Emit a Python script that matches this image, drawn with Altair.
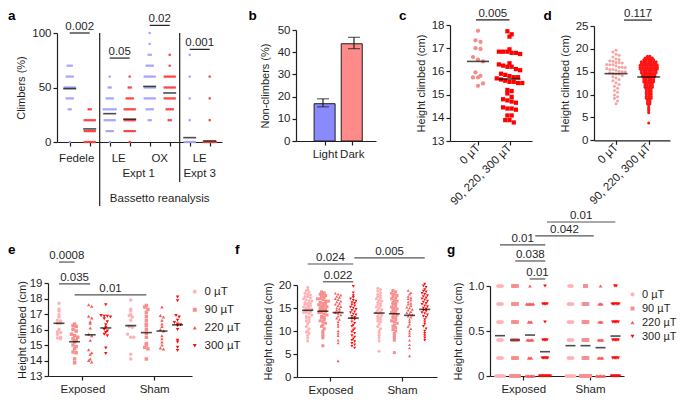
import altair as alt
import pandas as pd

W, H = 669, 388
FONT = "Liberation Sans"
INK = "#1f1f1f"
FS = 11.5

# ================= DATA =================
# ---- a: climbers (%) : number of trials at each 10 % level, per column
A_LEVELS = [0, 10, 20, 30, 40, 50, 60, 70, 80, 90, 100]
a_fedele_light = [1, 0, 0, 2, 4, 6, 4, 3, 0, 0, 0]
a_fedele_dark = [6, 6, 6, 2, 0, 0, 0, 0, 0, 0, 0]
a_le1_light = [1, 4, 6, 7, 4, 2, 1, 0, 0, 0, 0]
a_le1_dark = [1, 6, 6, 6, 4, 2, 1, 0, 0, 0, 0]
a_ox_light = [0, 0, 2, 4, 6, 6, 6, 4, 2, 1, 1]
a_ox_dark = [0, 0, 2, 4, 6, 6, 6, 1, 1, 0, 0]
a_le3_light = [6, 0, 1, 0, 1, 0, 1, 0, 1, 0, 0]
a_le3_dark = [7, 0, 1, 0, 1, 0, 1, 0, 0, 0, 0]
a_means = [49, 12, 26, 21, 51, 45, 4, 1]
a_cat_labels = ["Fedele", "LE", "OX", "LE"]
a_cat_pos = [0.35, 2.45, 4.5, 6.5]
a_expt_labels = ["Expt 1", "Expt 3"]
a_expt_pos = [3.45, 6.5]
a_separators = [1.5, 5.5]
a_p_x1 = [0, 2, 4, 6]
a_p_x2 = [1, 3, 5, 7]
a_p_y = [100, 77, 107, 85]
a_p_t = ["0.002", "0.05", "0.02", "0.001"]

# ---- b: non-climbers (%)
b_labels = ["Light", "Dark"]
b_values = [16.8, 43.8]
b_err_lo = [15.4, 41.6]
b_err_hi = [19.0, 46.7]

# ---- c: height climbed (cm)
c_labels = ["0 µT", "90, 220, 300 µT"]
c_0uT = [17.75, 17.34, 17.27, 17.0, 16.97, 16.62, 16.51, 16.43, 15.96, 15.81,
         15.74, 15.74, 15.48, 15.38]
c_exposed = [17.73, 17.6, 17.5, 16.95, 16.8, 16.85, 16.85, 16.8, 16.85, 16.75,
             16.35, 16.3, 16.25, 16.2, 16.2, 16.1, 16.05, 15.9, 15.85, 15.8,
             15.75, 15.75, 15.7, 15.65, 15.6, 15.55, 15.55, 15.5, 15.5, 15.2,
             15.15, 15.05, 14.9, 14.8, 14.75, 14.7, 14.65, 14.4, 14.45, 14.35,
             14.4, 14.1, 14.1, 13.9, 13.9, 13.8]
c_centre = [16.43, 15.67]
c_p_x1, c_p_x2, c_p_y, c_p_t = [-0.06], [1.0], [18.22], ["0.005"]

# ---- d: height climbed (cm)
d_0uT = [19.7, 19.3, 18.8, 18.6, 18.2, 17.8, 17.7, 17.4, 17.3, 17.0, 17.0, 16.9,
         16.6, 16.5, 16.5, 16.3, 16.0, 16.0, 15.9, 15.7, 15.5, 15.5, 15.3, 15.1,
         15.0, 15.0, 14.8, 14.6, 14.5, 14.5, 14.2, 13.9, 13.6, 13.3, 13.0, 12.6,
         12.2, 11.8, 11.4, 10.9, 10.5, 9.9, 9.5, 9.2, 8.6, 8.0]
d_exp_levels = [18.4, 18.0, 17.6, 17.2, 16.8, 16.4, 16.0, 15.6, 15.2, 14.8, 14.4,
                14.0, 13.6, 13.2, 12.8, 12.4, 12.0, 11.6, 11.2, 10.8, 10.4, 10.0,
                9.6, 9.2, 8.8, 8.4, 8.0, 7.6, 7.2, 6.8, 6.4, 6.0, 3.8]
d_exp_counts = [2, 4, 5, 7, 7, 8, 8, 8, 7, 7, 6, 6, 5, 5, 5, 4, 4, 4, 3, 3, 3, 3,
                3, 3, 2, 2, 2, 1, 1, 1, 1, 1, 1]
d_centre = [14.58, 13.85]
d_p_x1, d_p_x2, d_p_y, d_p_t = [0.245], [1.1], [26.3], ["0.117"]

# ---- e, f, g: groups
dose_labels = ["0 µT", "90 µT", "220 µT", "300 µT"]
cond_labels = ["Exposed", "Sham"]

e_exp = [
    [17.7, 17.3, 17.2, 16.95, 16.8, 16.6, 16.55, 16.4, 16.4, 16.0, 15.85, 15.8, 15.7, 15.5, 15.4, 15.45],
    [16.35, 16.25, 16.2, 16.0, 15.9, 15.7, 15.6, 15.5, 15.4, 15.3, 15.2, 15.0, 14.9, 14.75, 14.55, 14.5, 14.1, 13.85],
    [17.6, 17.5, 16.85, 16.75, 16.5, 16.4, 16.1, 15.7, 15.6, 15.3, 14.7, 14.5, 14.4, 14.1, 14.0, 13.9],
    [17.6, 16.9, 16.85, 16.85, 16.8, 16.7, 16.5, 16.3, 16.15, 16.0, 15.9, 15.8, 15.7, 15.6, 14.8, 14.45],
]
e_sham = [
    [17.9, 17.3, 17.2, 16.95, 16.9, 16.8, 16.6, 16.2, 16.15, 15.7, 15.5, 15.5, 14.4, 14.1],
    [17.55, 17.45, 17.3, 17.1, 16.85, 16.6, 16.35, 16.25, 16.0, 15.75, 15.5, 15.1, 15.0, 14.85, 14.75, 14.1],
    [17.45, 16.9, 16.8, 16.6, 16.35, 16.2, 16.0, 15.9, 15.6, 15.4, 15.2, 15.0, 14.8, 14.75],
    [18.1, 17.85, 16.9, 16.8, 16.6, 16.45, 16.35, 16.3, 16.25, 16.0, 15.3, 15.2, 14.85, 14.65],
]
e_centre = [16.4, 15.21, 15.66, 16.1, 16.25, 15.8, 15.9, 16.3]
e_p_x1 = [0, 0, 1]
e_p_x2 = [1, 2, 5.6]
e_p_y = [20.35, 18.94, 18.23]
e_p_t = ["0.0008", "0.035", "0.01"]

f_exp = [
    [19.5, 19.0, 18.8, 18.5, 18.2, 18.0, 17.8, 17.5, 17.5, 17.2, 17.0, 16.8, 16.5, 16.5, 16.2, 16.0,
     16.0, 15.8, 15.5, 15.5, 15.2, 15.0, 15.0, 14.8, 14.5, 14.5, 14.2, 14.0, 14.0, 13.8, 13.5, 13.2,
     13.0, 12.8, 12.5, 12.2, 12.0, 11.5, 11.0, 10.5, 10.0, 9.8, 9.5, 9.0, 8.5, 7.8],
    [18.5, 18.3, 18.0, 18.0, 17.7, 17.5, 17.3, 17.0, 17.0, 16.8, 16.5, 16.5, 16.2, 16.0, 16.0, 15.7,
     15.5, 15.5, 15.3, 15.0, 15.0, 14.8, 14.5, 14.5, 14.3, 14.0, 14.0, 13.7, 13.5, 13.2, 13.0, 12.8,
     12.5, 12.2, 12.0, 11.7, 11.3, 11.0, 10.5, 10.0, 9.5, 9.0, 8.5, 6.8],
    [18.2, 18.0, 17.8, 17.5, 17.3, 17.0, 16.8, 16.5, 16.3, 16.0, 15.8, 15.5, 15.3, 15.0, 14.8, 14.5,
     14.3, 14.0, 13.8, 13.5, 13.2, 12.8, 12.5, 12.0, 11.5, 11.0, 10.0, 9.5, 9.0, 8.0, 7.4, 3.5],
    [19.7, 18.3, 17.7, 17.3, 17.0, 16.7, 16.5, 16.2, 16.0, 15.7, 15.5, 15.2, 15.0, 14.7, 14.5, 14.2,
     14.0, 13.7, 13.5, 13.2, 13.0, 12.7, 12.5, 12.0, 11.7, 11.3, 11.0, 10.5, 10.2, 9.8, 9.5, 9.0,
     8.7, 8.3, 8.0, 7.7, 7.3, 7.0, 6.7, 6.3],
]
f_sham = [
    [19.3, 19.0, 18.7, 18.3, 18.0, 17.7, 17.5, 17.2, 17.0, 16.7, 16.5, 16.2, 16.0, 15.7, 15.5, 15.2,
     15.0, 14.7, 14.5, 14.2, 14.0, 13.7, 13.5, 13.2, 13.0, 12.7, 12.5, 12.2, 12.0, 11.5, 11.0, 10.5,
     10.0, 9.5, 9.0, 8.5, 7.8, 5.6],
    [18.8, 18.5, 18.2, 18.0, 17.7, 17.5, 17.2, 17.0, 16.7, 16.5, 16.2, 16.0, 15.8, 15.5, 15.2, 15.0,
     14.8, 14.5, 14.3, 14.0, 13.8, 13.5, 13.2, 13.0, 12.8, 12.5, 12.2, 12.0, 11.7, 11.3, 11.0, 10.7,
     10.3, 10.0, 9.5, 9.0, 8.5, 8.0, 5.3],
    [18.8, 18.3, 18.0, 17.5, 17.2, 17.0, 16.7, 16.3, 16.0, 15.8, 15.5, 15.2, 15.0, 14.7, 14.5, 14.2,
     14.0, 13.8, 13.5, 13.2, 13.0, 12.5, 12.0, 11.5, 11.0, 10.5, 10.0, 9.5, 9.0, 8.0, 7.0, 6.3, 4.6],
    [20.2, 19.8, 19.5, 19.0, 18.7, 18.5, 18.2, 18.0, 17.7, 17.5, 17.2, 17.0, 16.8, 16.5, 16.3, 16.0,
     15.8, 15.5, 15.3, 15.0, 14.8, 14.5, 14.3, 14.0, 13.8, 13.5, 13.2, 13.0, 12.5, 12.0, 11.5, 11.0,
     10.5, 10.0, 9.5, 9.0, 8.5, 8.0],
]
f_centre = [14.5, 14.3, 14.0, 12.8, 13.9, 13.75, 13.4, 14.7]
f_p_x1 = [0, 1, 3.07]
f_p_x2 = [3, 3, 7.7]
f_p_y = [24.57, 20.7, 25.9]
f_p_t = ["0.024", "0.022", "0.005"]

G_LEVELS = [0, 0.2, 0.4, 0.6, 0.8, 1.0]
g_exp_counts = [[7, 4, 4, 4, 4, 4], [7, 4, 5, 4, 4, 4], [7, 3, 5, 3, 6, 1], [9, 5, 4, 1, 4, 1]]
g_sham_counts = [[7, 4, 4, 4, 4, 3], [8, 4, 4, 4, 4, 2], [7, 4, 4, 3, 3, 1], [7, 5, 5, 5, 6, 2]]
g_centre = [0.448, 0.40, 0.455, 0.27, 0.337, 0.337, 0.315, 0.444]
g_p_x1 = [3.13, 2.35, 0, 1.02, 1.98]
g_p_x2 = [7.69, 6.25, 3.02, 3.02, 3.02]
g_p_y = [1.711, 1.556, 1.456, 1.278, 1.078]
g_p_t = ["0.01", "0.042", "0.01", "0.038", "0.01"]

# sub-group positions along the x scale
E_POS = [0, 1, 2, 3, 4.6, 5.6, 6.6, 7.6]
F_POS = [0, 1, 2, 3, 4.7, 5.7, 6.7, 7.7]
G_POS = [0, 1, 2, 3, 4.7, 5.7, 6.7, 7.7]

DOSE_COLORS = ["#ffb1b5", "#f98e8e", "#f65c5c", "#ff0d0d"]
DOSE_SHAPES = ["circle", "square", "triangle-up", "triangle-down"]


# ================= HELPERS =================
def lin(domain, rng):
    return alt.Scale(domain=domain, range=rng, nice=False, zero=False)


def left_axis(x0, title, values, pad=6, expr=None):
    kw = dict(orient="left", offset=-x0, title=title, values=values, grid=False,
              tickSize=4, labelPadding=2, titlePadding=pad)
    if expr:
        kw["labelExpr"] = expr
    return alt.Axis(**kw)


def bottom_axis(yb, values, expr=None, labels=True, angle=None):
    kw = dict(orient="bottom", offset=yb - H, title=None, values=values, grid=False,
              tickSize=4, labelPadding=3, labels=labels)
    if expr:
        kw["labelExpr"] = expr
    if angle is not None:
        kw["labelAngle"] = angle
        kw["labelAlign"] = "right"
        kw["labelBaseline"] = "middle"
        kw["labelPadding"] = 1
    return alt.Axis(**kw)


def list_expr(labels):
    return "[" + ",".join("'" + s + "'" for s in labels) + "][datum.value]"


def from_vals(vals, u, g):
    return [dict(u=u, g=g, v=v) for v in vals]


def from_counts(levels, counts, u, g):
    return [dict(u=u, g=g, v=lv) for lv, n in zip(levels, counts) for _ in range(n)]


def swarm(df, step, dx):
    # step / dx may be numbers or expressions (per-group)
    return (alt.Chart(df)
            .transform_calculate(b=f"round(datum.v / ({step}))")
            .transform_window(rk="row_number()", groupby=["u", "b"],
                              sort=[alt.SortField("v", order="descending")])
            .transform_joinaggregate(nn="count()", groupby=["u", "b"])
            .transform_calculate(xs=f"datum.u + (datum.rk - (datum.nn + 1) / 2) * ({dx})"))


def points(df, step, dx, xs, ys, xax, yax, gdom, colors, shapes, size, legend=None,
           mark="point", opacity=1.0):
    base = swarm(df, step, dx)
    if mark == "square":
        m = base.mark_square(size=size, opacity=opacity)
    else:
        m = base.mark_point(filled=True, size=size, opacity=opacity)
    enc = dict(
        x=alt.X("xs:Q", scale=xs, axis=xax),
        y=alt.Y("v:Q", scale=ys, axis=yax),
        color=alt.Color("g:N", scale=alt.Scale(domain=gdom, range=colors), legend=legend),
    )
    if shapes:
        enc["shape"] = alt.Shape("g:N", scale=alt.Scale(domain=gdom, range=shapes), legend=legend)
    return m.encode(**enc)


def centre_lines(us, ms, xs, ys, width):
    df = pd.DataFrame({"u": us, "m": ms})
    return alt.Chart(df).mark_tick(orient="horizontal", size=width, thickness=1.6,
                                   color="black").encode(
        x=alt.X("u:Q", scale=xs, axis=None), y=alt.Y("m:Q", scale=ys, axis=None))


def brackets(x1, x2, y, t, xs, ys, color):
    df = pd.DataFrame({"x1": x1, "x2": x2, "y": y, "t": t})
    base = alt.Chart(df)
    rule = base.mark_rule(color=color, strokeWidth=1.2).encode(
        x=alt.X("x1:Q", scale=xs, axis=None), x2="x2:Q",
        y=alt.Y("y:Q", scale=ys, axis=None))
    txt = base.transform_calculate(xc="(datum.x1 + datum.x2) / 2").mark_text(
        fontSize=FS, font=FONT, color=INK, baseline="alphabetic", dy=-3).encode(
        x=alt.X("xc:Q", scale=xs, axis=None), y=alt.Y("y:Q", scale=ys, axis=None),
        text="t:N")
    return [rule, txt]


def letter(t, x, y):
    return alt.Chart(pd.DataFrame({"t": [t]})).mark_text(
        fontSize=13.5, font=FONT, fontWeight="bold", color="black", align="left",
        baseline="alphabetic").encode(x=alt.value(x), y=alt.value(y), text="t:N")


def text_at(xs, pos, labels, ypx):
    return alt.Chart(pd.DataFrame({"p": pos, "t": labels})).mark_text(
        fontSize=FS, font=FONT, color=INK, baseline="alphabetic").encode(
        x=alt.X("p:Q", scale=xs, axis=None), y=alt.value(ypx), text="t:N")


layers = []

# ================= PANEL a =================
xa = lin([-0.635, 7.615], [49, 214])
ya = lin([0, 100], [134, 25])
a_cols = [a_fedele_light, a_fedele_dark, a_le1_light, a_le1_dark,
          a_ox_light, a_ox_dark, a_le3_light, a_le3_dark]
a_rows = []
for i, cnts in enumerate(a_cols):
    a_rows += from_counts(A_LEVELS, cnts, i, "light" if i % 2 == 0 else "dark")
a_df = pd.DataFrame(a_rows)
layers.append(points(a_df, 5, 0.1, xa, ya,
                     bottom_axis(134, list(range(8)), labels=False),
                     left_axis(49, "Climbers (%)", [0, 50, 100], pad=5),
                     ["light", "dark"], ["#a3a3ff", "#ff3c3c"], None, 5, mark="square"))
layers.append(centre_lines(list(range(8)), a_means, xa, ya, 13))
layers += brackets(a_p_x1, a_p_x2, a_p_y, a_p_t, xa, ya, INK)
layers.append(alt.Chart(pd.DataFrame({"s": [a_separators[0]]})).mark_rule(
    color=INK, strokeWidth=1.2).encode(x=alt.X("s:Q", scale=xa, axis=None),
                                       y=alt.value(25), y2=alt.value(198)))
layers.append(alt.Chart(pd.DataFrame({"s": [a_separators[1]]})).mark_rule(
    color=INK, strokeWidth=1.2).encode(x=alt.X("s:Q", scale=xa, axis=None),
                                       y=alt.value(25), y2=alt.value(174)))
layers.append(text_at(xa, a_cat_pos, a_cat_labels, 154))
layers.append(text_at(xa, a_expt_pos, a_expt_labels, 169))
layers.append(text_at(xa, [4.5], ["Bassetto reanalysis"], 194))

# ================= PANEL b =================
xb = lin([-0.871, 1.71], [288, 368])
yb = lin([0, 50], [133, 22])
b_df = pd.DataFrame({"u": [0, 1], "lab": b_labels, "val": b_values,
                     "lo": b_err_lo, "hi": b_err_hi})
layers.append(alt.Chart(b_df).mark_bar(size=21, stroke=INK, strokeWidth=1,
                                       orient="vertical").encode(
    x=alt.X("u:Q", scale=xb, axis=bottom_axis(133, [0, 1], expr=list_expr(b_labels))),
    y=alt.Y("val:Q", scale=yb,
            axis=left_axis(288, "Non-climbers (%)", [0, 10, 20, 30, 40, 50], pad=7)),
    color=alt.Color("lab:N", scale=alt.Scale(domain=b_labels, range=["#8a8aff", "#ff8a8a"]),
                    legend=None)))
layers.append(alt.Chart(b_df).mark_rule(color=INK, strokeWidth=1.2).encode(
    x=alt.X("u:Q", scale=xb, axis=None), y=alt.Y("lo:Q", scale=yb, axis=None), y2="hi:Q"))
for fld in ["lo", "hi"]:
    layers.append(alt.Chart(b_df).mark_tick(orient="horizontal", size=12, thickness=1.2,
                                            color=INK).encode(
        x=alt.X("u:Q", scale=xb, axis=None), y=alt.Y(f"{fld}:Q", scale=yb, axis=None)))

# ================= PANEL c =================
xc = lin([-0.889, 1.714], [442, 524])
yc = lin([13, 18], [133, 17])
c_df = pd.DataFrame(from_vals(c_0uT, 0, c_labels[0]) + from_vals(c_exposed, 1, c_labels[1]))
layers.append(points(c_df, 0.3, "datum.u == 0 ? 0.16 : 0.135", xc, yc,
                     bottom_axis(133, [0, 1], expr=list_expr(c_labels), angle=315),
                     left_axis(442, "Height climbed (cm)", [13, 14, 15, 16, 17, 18], pad=5),
                     c_labels, ["#f48c8c", "#ff0000"], ["circle", "square"], 18))
layers.append(centre_lines([0, 1], c_centre, xc, yc, 22))
layers += brackets(c_p_x1, c_p_x2, c_p_y, c_p_t, xc, yc, INK)

# ================= PANEL d =================
xd = lin([-0.673, 1.651], [586, 662])
yd = lin([0, 25], [132.3, 18])
d_df = pd.DataFrame(from_vals(d_0uT, 0, c_labels[0]) +
                    from_counts(d_exp_levels, d_exp_counts, 1, c_labels[1]))
layers.append(points(d_df, "datum.u == 0 ? 0.9 : 0.4", "datum.u == 0 ? 0.095 : 0.075", xd, yd,
                     bottom_axis(132.3, [0, 1], expr=list_expr(c_labels), angle=315),
                     left_axis(586, "Height climbed (cm)", [0, 5, 10, 15, 20, 25], pad=5),
                     c_labels, ["#f6a3a3", "#ff1414"], ["circle", "circle"], 9))
layers.append(centre_lines([0, 1], d_centre, xd, yd, 23))
layers += brackets(d_p_x1, d_p_x2, d_p_y, d_p_t, xd, yd, INK)


# ================= PANELS e, f, g =================
def group_rows(pos, exp_lists, sham_lists):
    rows = []
    for k in range(4):
        rows += from_vals(exp_lists[k], pos[k], dose_labels[k])
        rows += from_vals(sham_lists[k], pos[k + 4], dose_labels[k])
    return pd.DataFrame(rows)


cond_expr = f"datum.value < 4 ? '{cond_labels[0]}' : '{cond_labels[1]}'"

# e
xe = lin([-0.705, 8.526], [40, 184])
ye = lin([13, 19], [368, 275])
e_df = group_rows(E_POS, e_exp, e_sham)
e_legend = alt.Legend(orient="none", legendX=181, legendY=278, title=None,
                      labelFontSize=FS, labelFont=FONT, labelColor=INK, symbolSize=16,
                      rowPadding=5, labelOffset=4, padding=0)
layers.append(points(e_df, 0.2, 0.2, xe, ye,
                     bottom_axis(368, [1.5, 6.1], expr=cond_expr),
                     left_axis(40, "Height climbed (cm)", [13, 14, 15, 16, 17, 18, 19], pad=2),
                     dose_labels, DOSE_COLORS, DOSE_SHAPES, 12, legend=e_legend))
layers.append(centre_lines(E_POS, e_centre, xe, ye, 11))
layers += brackets(e_p_x1, e_p_x2, e_p_y, e_p_t, xe, ye, "#555555")

# f
xf = lin([-0.704, 8.507], [289, 429])
yf = lin([0, 20], [369, 277])
f_df = group_rows(F_POS, f_exp, f_sham)
layers.append(points(f_df, 0.6, 0.18, xf, yf,
                     bottom_axis(369, [1.5, 6.2], expr=cond_expr),
                     left_axis(289, "Height climbed (cm)", [0, 5, 10, 15, 20], pad=5),
                     dose_labels, DOSE_COLORS, DOSE_SHAPES, 9))
layers.append(centre_lines(F_POS, f_centre, xf, yf, 11))
layers += brackets(f_p_x1, f_p_x2, f_p_y, f_p_t, xf, yf, "#555555")

# g
xg = lin([-0.667, 8.267], [482, 616])
yg = lin([0, 1], [368, 278])
g_rows = []
for k in range(4):
    g_rows += from_counts(G_LEVELS, g_exp_counts[k], G_POS[k], dose_labels[k])
    g_rows += from_counts(G_LEVELS, g_sham_counts[k], G_POS[k + 4], dose_labels[k])
g_df = pd.DataFrame(g_rows)
g_legend = alt.Legend(orient="none", legendX=619, legendY=281, title=None,
                      labelFontSize=11, labelFont=FONT, labelColor=INK, symbolSize=16,
                      rowPadding=2, labelOffset=4, padding=0)
layers.append(points(g_df, 0.1, 0.09, xg, yg,
                     bottom_axis(368, [1.55, 6.0], expr=cond_expr),
                     left_axis(482, "Height climbed (cm)", [0, 0.5, 1.0], pad=5,
                               expr="datum.value == 0 ? '0' : format(datum.value, '.1f')"),
                     dose_labels, DOSE_COLORS, DOSE_SHAPES, 14, legend=g_legend))
layers.append(centre_lines(G_POS, g_centre, xg, yg, 10))
layers += brackets(g_p_x1, g_p_x2, g_p_y, g_p_t, xg, yg, "#555555")

layers += [letter("a", 0, 12), letter("b", 240.5, 11.5), letter("c", 391, 11.5),
           letter("d", 535.5, 11.5), letter("e", 0, 246), letter("f", 227, 246),
           letter("g", 439, 246)]

chart = alt.layer(*layers).resolve_scale(
    x="independent", y="independent", color="independent", shape="independent"
).resolve_axis(x="independent", y="independent").resolve_legend(
    color="independent", shape="independent"
).properties(
    width=W, height=H, autosize=alt.AutoSizeParams(type="none"), padding=0
).configure_view(stroke=None).configure_axis(
    labelFont=FONT, titleFont=FONT, labelFontSize=FS, titleFontSize=11,
    labelColor=INK, titleColor=INK, tickColor=INK, domainColor=INK,
    titleFontWeight="normal", domainWidth=1.2, tickWidth=1.2, labelFlush=False
)

chart.save("out.html", embed_options={"renderer": "svg", "actions": False})
